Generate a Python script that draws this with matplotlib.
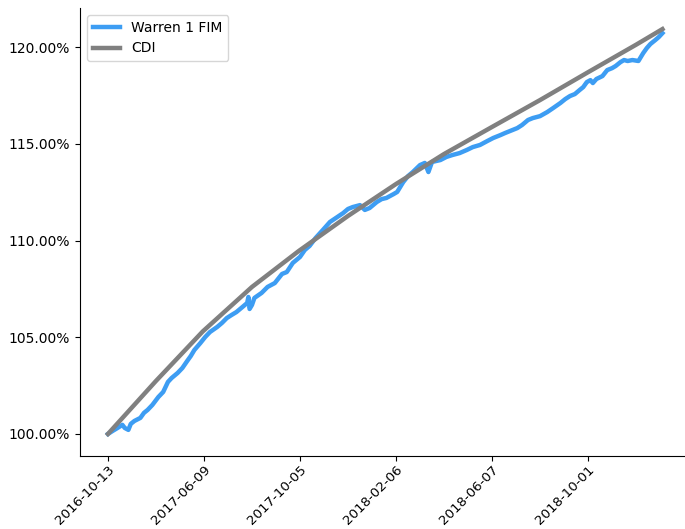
import matplotlib
matplotlib.use('Agg')
import matplotlib.pyplot as plt
from matplotlib.ticker import FuncFormatter

# posicoes (dias uteis desde o inicio) e cotas
warren_pos = [0, 4, 8, 12, 14, 17, 19, 22, 27, 30, 33, 37, 42, 46, 50, 53, 58, 62, 66, 69,
              72, 77, 81, 85, 91, 95, 99, 103, 107, 112, 116, 117, 118, 120, 122, 128, 133, 139,
              145, 149, 154, 160, 164, 168, 173, 179, 185, 191, 196, 200, 204, 210, 214, 218,
              224, 228, 232, 238, 241, 246, 250, 254, 260, 264, 267, 270, 277, 282, 287, 293,
              299, 304, 310, 316, 321, 327, 331, 335, 341, 345, 350, 354, 360, 366, 371, 377,
              381, 385, 389, 393, 396, 399, 402, 404, 407, 412, 416, 420, 423, 427, 430, 433,
              437, 442, 446, 449, 452, 456, 459, 462]
warren = [100.00, 100.16, 100.31, 100.47, 100.31, 100.21, 100.52, 100.67, 100.83, 101.09,
          101.24, 101.50, 101.91, 102.17, 102.69, 102.89, 103.15, 103.41, 103.77, 104.03,
          104.34, 104.70, 105.01, 105.27, 105.53, 105.74, 105.99, 106.15, 106.30, 106.56,
          106.77, 107.08, 106.46, 106.67, 107.03, 107.29, 107.60, 107.80, 108.27, 108.37,
          108.84, 109.15, 109.51, 109.72, 110.13, 110.54, 110.96, 111.21, 111.42, 111.63,
          111.73, 111.83, 111.58, 111.68, 111.99, 112.14, 112.20, 112.40, 112.51, 113.02,
          113.33, 113.54, 113.90, 114.01, 113.54, 114.06, 114.16, 114.32, 114.42, 114.52,
          114.68, 114.83, 114.94, 115.14, 115.30, 115.45, 115.56, 115.66, 115.81, 115.97,
          116.23, 116.33, 116.43, 116.64, 116.85, 117.11, 117.31, 117.47, 117.57, 117.78,
          117.93, 118.19, 118.29, 118.14, 118.35, 118.50, 118.81, 118.91, 119.02, 119.22,
          119.33, 119.28, 119.33, 119.28, 119.69, 119.95, 120.16, 120.36, 120.52, 120.72]

cdi_pos = [0, 40, 79, 120, 159, 200, 240, 280, 320, 360, 400, 440, 462]
cdi = [100.00, 102.74, 105.30, 107.60, 109.46, 111.27, 112.92, 114.47, 115.87, 117.26,
       118.70, 120.12, 120.93]

tick_pos = [0, 80, 160, 240, 320, 400]
tick_labels = ['2016-10-13', '2017-06-09', '2017-10-05', '2018-02-06', '2018-06-07', '2018-10-01']
y_ticks = [100, 105, 110, 115, 120]

fig = plt.figure(figsize=(6.85, 5.29), dpi=100)
ax = fig.add_axes([80 / 685, 73 / 529, 605 / 685, 448 / 529])

ax.plot(warren_pos, warren, color='#3d9df3', linewidth=3.2, label='Warren 1 FIM')
ax.plot(cdi_pos, cdi, color='#808080', linewidth=3.2, label='CDI')

ax.set_xlim(-23.3, 480.8)
ax.set_ylim(98.86, 122.02)
ax.set_yticks(y_ticks)
ax.yaxis.set_major_formatter(FuncFormatter(lambda v, p: '{:.2f}%'.format(v)))
ax.set_xticks(tick_pos)
ax.set_xticklabels(tick_labels, rotation=45, ha='right', rotation_mode='anchor', fontsize=9.6)
ax.tick_params(axis='x', pad=1.5)

ax.spines['top'].set_visible(False)
ax.spines['right'].set_visible(False)
ax.legend(loc='upper left')

fig.savefig('out.png', dpi=100)
